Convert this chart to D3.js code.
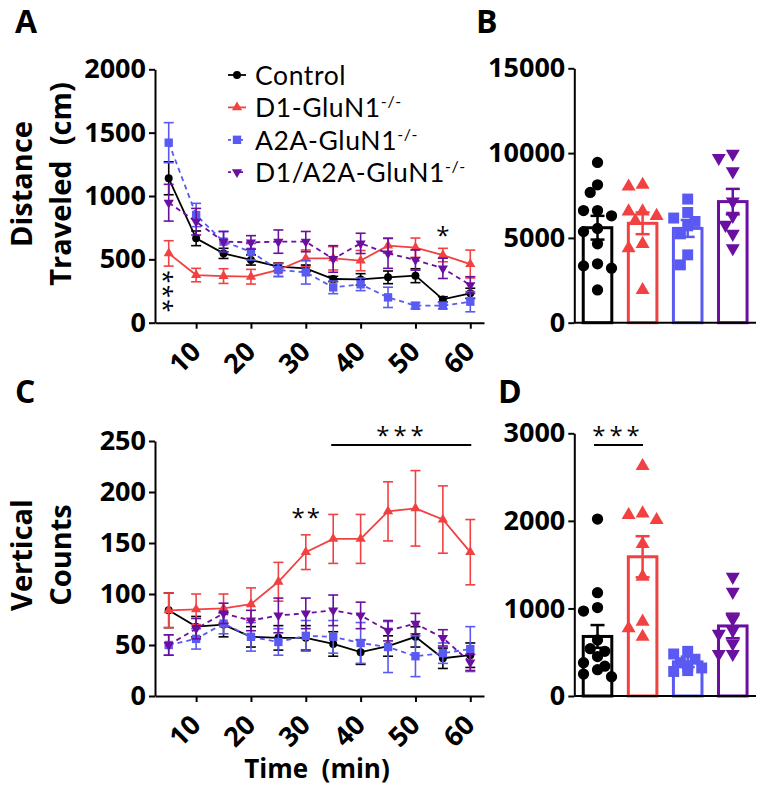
<!DOCTYPE html>
<html>
<head>
<meta charset="UTF-8">
<title>Locomotion</title>
<style>
  body { margin: 0; background: #fff; }
  text { font-family: "Open Sans", sans-serif; }
</style>
</head>
<body>
<svg width="764" height="795"></svg>
<script src="https://d3js.org/d3.v7.min.js"></script>
<script>
// ---- data ----
const times = [5, 10, 15, 20, 25, 30, 35, 40, 45, 50, 55, 60];
const groups = ["Control", "D1-GluN1", "A2A-GluN1", "D1/A2A-GluN1"];
const colors = ["#000000", "#f24141", "#5a5af2", "#6a0fa0"];

// distance travelled per 5 min bin (mean, sem), one row per group
const distMean = [
  [1140, 666, 547, 495, 442, 429, 345, 342, 358, 371, 184, 232],
  [547, 376, 368, 363, 416, 508, 508, 490, 608, 592, 534, 463],
  [1421, 850, 640, 560, 416, 397, 279, 303, 200, 134, 134, 166],
  [947, 797, 640, 634, 640, 640, 503, 626, 547, 495, 429, 297]
];
const distSem = [
  [130, 58, 40, 40, 30, 26, 21, 45, 50, 55, 21, 40],
  [100, 53, 58, 58, 53, 66, 92, 80, 60, 76, 53, 110],
  [158, 92, 80, 65, 50, 92, 50, 50, 80, 25, 25, 80],
  [145, 105, 80, 53, 92, 80, 105, 80, 118, 80, 80, 66]
];

// vertical counts per 5 min bin
const vertMean = [
  [84, 68, 70, 58, 57, 57, 51, 43, 49, 58, 37, 40],
  [84, 85, 86, 90, 112, 141, 154, 154, 181, 184, 173, 141],
  [50, 56, 71, 58, 53, 59, 58, 52, 48, 39, 42, 46],
  [50, 66, 81, 74, 79, 81, 84, 79, 64, 71, 57, 33]
];
const vertSem = [
  [17, 10, 12, 10, 12, 12, 12, 12, 10, 10, 10, 12],
  [17, 15, 14, 16, 19, 17, 24, 24, 29, 37, 33, 32],
  [10, 10, 10, 14, 13, 15, 16, 20, 25, 20, 10, 22],
  [10, 10, 10, 10, 17, 15, 15, 13, 10, 10, 8, 8]
];

// totals (bar = mean, sem, individual animals)
const distTotalMean = [5600, 5860, 5560, 7140];
const distTotalSem = [700, 640, 500, 750];
const distAnimals = [
  [9450, 8130, 7680, 6610, 6610, 6300, 5560, 5370, 4650, 3470, 3350, 3210, 1930],
  [8130, 8030, 6560, 6560, 6300, 6000, 4650, 4390, 1930],
  [7290, 6500, 6170, 5970, 5710, 5240, 4000, 3410],
  [9710, 9960, 8920, 7150, 6300, 5770, 5240, 4390]
];
const vertTotalMean = [680, 1590, 390, 800];
const vertTotalSem = [130, 235, 60, 140];
const vertAnimals = [
  [2020, 1180, 1010, 970, 640, 540, 510, 450, 380, 340, 300, 250, 220],
  [2626, 2086, 2067, 2010, 1736, 1363, 849, 773, 677],
  [510, 480, 420, 380, 340, 320, 290, 280],
  [1360, 1190, 880, 750, 710, 600, 480, 480]
];

const distTicks = [0, 500, 1000, 1500, 2000];
const vertTicks = [0, 50, 100, 150, 200, 250];
const distTotalTicks = [0, 5000, 10000, 15000];
const vertTotalTicks = [0, 1000, 2000, 3000];
const timeTicks = [10, 20, 30, 40, 50, 60];

// ---- drawing ----
const svg = d3.select("svg");

const shapes = [d3.symbolCircle, d3.symbolTriangle, d3.symbolSquare, d3.symbolTriangle];
const lineSizes = [50, 45, 70, 45];
const dotSizes = [100, 85, 120, 85];
const dashes = [null, null, "5,4", "5,4"];

function marker(g, i, size) {
  return g.append("path")
    .attr("d", d3.symbol().type(shapes[i]).size(size)())
    .attr("fill", colors[i]);
}
function placeMarker(sel, i, x, y) {
  sel.attr("transform", `translate(${x},${y})` + (i === 3 ? " rotate(180)" : ""));
}

function styleAxis(g) {
  g.selectAll(".domain").attr("stroke-width", 2);
  g.selectAll(".tick line").attr("stroke-width", 2);
  g.selectAll("text").attr("font-size", 27).attr("font-weight", "bold").attr("fill", "#000");
}

function timePanel(top, bottom, yMax, yTickVals, means, sems) {
  const x = d3.scaleLinear().domain([2.5, 62.5]).range([155, 484]);
  const y = d3.scaleLinear().domain([0, yMax]).range([bottom, top]);
  const g = svg.append("g");

  g.append("g").attr("transform", `translate(155,0)`)
    .call(d3.axisLeft(y).tickValues(yTickVals).tickFormat(d3.format("d"))
      .tickSize(6).tickSizeOuter(0).tickPadding(3))
    .call(styleAxis);

  const xa = g.append("g").attr("transform", `translate(0,${bottom})`)
    .call(d3.axisBottom(x).tickValues(timeTicks).tickSize(6).tickSizeOuter(0))
    .call(styleAxis);
  xa.selectAll("text")
    .attr("text-anchor", "end")
    .attr("dy", "0.35em")
    .attr("y", 0)
    .attr("transform", "translate(-1,24) rotate(-45)");

  for (let i = 0; i < groups.length; i++) {
    const gg = g.append("g");
    // error bars
    times.forEach((t, k) => {
      const cx = x(t), hi = y(means[i][k] + sems[i][k]), lo = y(means[i][k] - sems[i][k]);
      gg.append("line").attr("x1", cx).attr("x2", cx).attr("y1", hi).attr("y2", lo)
        .attr("stroke", colors[i]).attr("stroke-width", 1.6);
      [hi, lo].forEach(yy => gg.append("line").attr("x1", cx - 5).attr("x2", cx + 5)
        .attr("y1", yy).attr("y2", yy).attr("stroke", colors[i]).attr("stroke-width", 1.6));
    });
    gg.append("path")
      .datum(means[i])
      .attr("fill", "none")
      .attr("stroke", colors[i])
      .attr("stroke-width", 1.8)
      .attr("stroke-dasharray", dashes[i])
      .attr("d", d3.line().x((d, k) => x(times[k])).y(d => y(d)));
    means[i].forEach((d, k) => placeMarker(marker(gg, i, lineSizes[i]), i, x(times[k]), y(d)));
  }
  return { x, y, g };
}

// beeswarm-ish columns at -7, 0, +7 px
function swarm(vals, cx, y) {
  const placed = [];
  const offs = [0, -7.3, 7.3, -14, 14];
  vals.slice().sort((a, b) => b - a).forEach(v => {
    const py = y(v);
    for (const o of offs) {
      if (placed.every(p => Math.hypot(p.x - (cx + o), p.y - py) > 10.5)) {
        placed.push({ x: cx + o, y: py });
        return;
      }
    }
    placed.push({ x: cx, y: py });
  });
  return placed;
}

function barPanel(top, bottom, yMax, yTickVals, means, sems, animals) {
  const x = d3.scaleBand().domain(groups).range([574.3, 756]).paddingInner(0.3).paddingOuter(0.165);
  const y = d3.scaleLinear().domain([0, yMax]).range([bottom, top]);
  const g = svg.append("g");

  g.append("g").attr("transform", `translate(574.3,0)`)
    .call(d3.axisLeft(y).tickValues(yTickVals).tickFormat(d3.format("d"))
      .tickSize(6).tickSizeOuter(0).tickPadding(3))
    .call(styleAxis);

  groups.forEach((name, i) => {
    g.append("rect")
      .attr("x", x(name) + 1.5).attr("width", x.bandwidth() - 3)
      .attr("y", y(means[i])).attr("height", bottom - y(means[i]))
      .attr("fill", "#fff").attr("stroke", colors[i]).attr("stroke-width", 3);
  });

  g.append("line").attr("x1", 574.3).attr("x2", 756).attr("y1", bottom).attr("y2", bottom)
    .attr("stroke", "#000").attr("stroke-width", 2);

  groups.forEach((name, i) => {
    const cx = x(name) + x.bandwidth() / 2;
    swarm(animals[i], cx, y).forEach(p => placeMarker(marker(g, i, dotSizes[i]), i, p.x, p.y));
  });

  groups.forEach((name, i) => {
    const cx = x(name) + x.bandwidth() / 2;
    const hi = y(means[i] + sems[i]), lo = y(means[i] - sems[i]);
    g.append("line").attr("x1", cx).attr("x2", cx).attr("y1", hi).attr("y2", lo)
      .attr("stroke", colors[i]).attr("stroke-width", 2.5);
    [hi, lo].forEach(yy => g.append("line").attr("x1", cx - 7).attr("x2", cx + 7)
      .attr("y1", yy).attr("y2", yy).attr("stroke", colors[i]).attr("stroke-width", 2.5));
  });
  return { x, y, g };
}

function letter(txt, x, y) {
  svg.append("text").attr("x", x).attr("y", y).text(txt)
    .attr("font-size", 32).attr("font-weight", "bold");
}
function yTitle(lines, cx, cy) {
  lines.forEach((l, k) => {
    svg.append("text")
      .attr("transform", `translate(${cx[k]},${cy}) rotate(-90)`)
      .attr("text-anchor", "middle")
      .attr("font-size", 29).attr("font-weight", "bold")
      .style("white-space", "pre")
      .text(l);
  });
}
function stars(txt, x, y, spacing) {
  return svg.append("text").attr("x", x).attr("y", y).attr("text-anchor", "middle")
    .attr("font-size", 24).attr("letter-spacing", spacing || 0).text(txt);
}

// Panel A
const A = timePanel(69.3, 322.7, 2000, distTicks, distMean, distSem);
// Panel C
const C = timePanel(441, 696, 250, vertTicks, vertMean, vertSem);
// Panel B
barPanel(68.3, 322.7, 15000, distTotalTicks, distTotalMean, distTotalSem, distAnimals);
// Panel D
barPanel(433.3, 696, 3000, vertTotalTicks, vertTotalMean, vertTotalSem, vertAnimals);

letter("A", 15, 33);
letter("B", 476, 33);
letter("C", 15, 403);
letter("D", 498, 403);

yTitle(["Distance", "Traveled  (cm)"], [32, 71], 184);
yTitle(["Vertical", "Counts"], [32, 71], 555);

svg.append("text").attr("x", 317).attr("y", 778).attr("text-anchor", "middle")
  .attr("font-size", 26).attr("font-weight", "bold").style("white-space", "pre")
  .text("Time  (min)");

// legend
const leg = svg.append("g");
groups.forEach((name, i) => {
  const yy = 75 + i * 32.4;
  leg.append("line").attr("x1", 228).attr("x2", 246).attr("y1", yy).attr("y2", yy)
    .attr("stroke", colors[i]).attr("stroke-width", 1.8).attr("stroke-dasharray", i > 1 ? "3,3" : null);
  placeMarker(marker(leg, i, lineSizes[i]), i, 237, yy);
  const t = leg.append("text").attr("x", 255).attr("y", yy + 10)
    .style("font-family", "Lato, sans-serif").attr("font-size", 26.5).attr("letter-spacing", 0.6);
  t.append("tspan").text(name);
  if (i > 0) t.append("tspan").attr("font-size", 16).attr("dy", -10).text("-/-");
});

// significance marks
// stacked *** under the first time bin: one text turned on its side
svg.append("text")
  .attr("transform", `translate(${A.x(5) - 14},292) rotate(90)`)
  .attr("text-anchor", "middle")
  .attr("font-size", 24)
  .attr("letter-spacing", 1.3)
  .text("***");
stars("*", A.x(55), 244);
stars("**", C.x(30) + 1, 526, 2);
stars("***", 402, 444, 4);
svg.append("line").attr("x1", C.x(35) - 2).attr("x2", C.x(60) + 1).attr("y1", 445).attr("y2", 445)
  .attr("stroke", "#000").attr("stroke-width", 2);
stars("***", 618, 444, 4);
svg.append("line").attr("x1", 594).attr("x2", 643).attr("y1", 445).attr("y2", 445)
  .attr("stroke", "#000").attr("stroke-width", 2);
</script>
</body>
</html>
